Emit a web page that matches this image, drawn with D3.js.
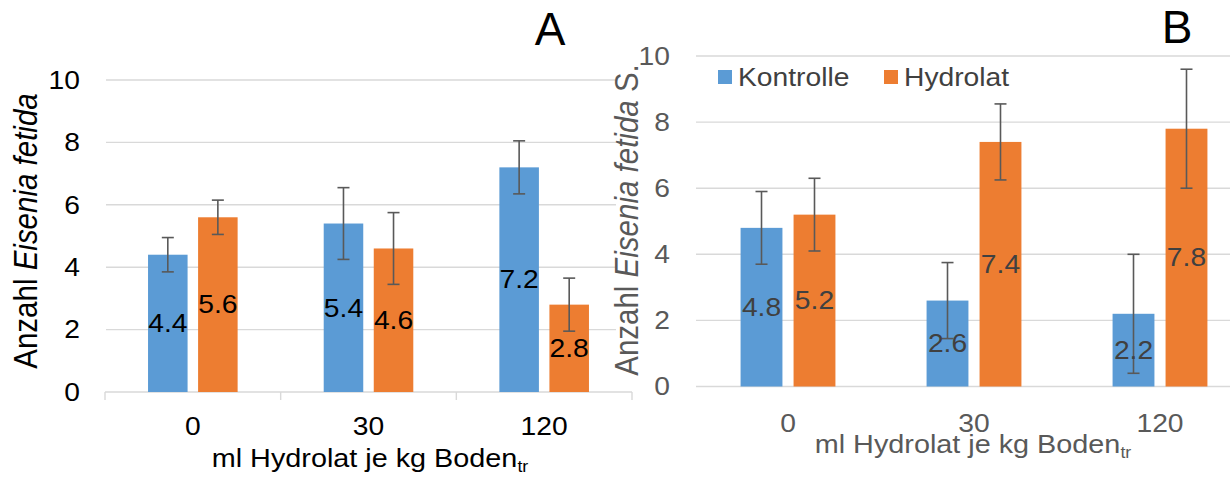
<!DOCTYPE html>
<html>
<head>
<meta charset="utf-8">
<script src="https://cdn.jsdelivr.net/npm/d3@7"></script>
<style>
  body { margin: 0; background: #fff; }
  svg { display: block; font-family: "Liberation Sans", Arial, sans-serif; }
</style>
</head>
<body>
<div id="chart"></div>
<script>
// data
const categories = ["0", "30", "120"];
const seriesNames = ["Kontrolle", "Hydrolat"];
const yTicks = [0, 2, 4, 6, 8, 10];

const aKontrolle = [4.4, 5.4, 7.2];
const aHydrolat = [5.6, 4.6, 2.8];
const aKontrolleErr = [0.55, 1.15, 0.85];
const aHydrolatErr = [0.55, 1.15, 0.85];

const bKontrolle = [4.8, 2.6, 2.2];
const bHydrolat = [5.2, 7.4, 7.8];
const bKontrolleErr = [1.1, 1.15, 1.8];
const bHydrolatErr = [1.1, 1.15, 1.8];

const colors = ["#5B9BD5", "#ED7D31"];
const sx = 1.13; // the chart text looks a bit wider than normal

const svg = d3.select("#chart")
    .append("svg")
    .attr("width", 1230)
    .attr("height", 482);

function stretchText(g, x, y, txt, opts) {
    const t = g.append("text")
        .attr("transform", `translate(${x},${y}) scale(${sx},1)` + (opts.rotate ? " rotate(-90)" : ""))
        .attr("text-anchor", opts.anchor || "middle")
        .attr("font-size", opts.size + "px")
        .attr("fill", opts.color);
    if (opts.dy) t.attr("dy", opts.dy);
    if (txt !== null) t.text(txt);
    return t;
}

function drawPanel(p) {
    const g = svg.append("g");

    const x = d3.scaleBand()
        .domain(categories)
        .range([p.left, p.right]);

    const xs = d3.scaleBand()
        .domain(seriesNames)
        .range([0, x.bandwidth()])
        .paddingInner(0.21)
        .paddingOuter(0.86);

    const y = d3.scaleLinear()
        .domain([0, 10])
        .range([p.bottom, p.top]);

    // gridlines
    g.selectAll(".grid")
        .data(yTicks.filter(d => p.zeroGrid || d > 0))
        .enter()
        .append("line")
        .attr("x1", p.left + 1)
        .attr("x2", p.gridEnd)
        .attr("y1", d => y(d))
        .attr("y2", d => y(d))
        .attr("stroke", "#d9d9d9")
        .attr("stroke-width", 1.4);

    // category axis
    if (p.axisLine) {
        g.append("line")
            .attr("x1", p.left)
            .attr("x2", p.right)
            .attr("y1", y(0))
            .attr("y2", y(0))
            .attr("stroke", "#d9d9d9")
            .attr("stroke-width", 1.4);
        const edges = categories.map(c => x(c)).concat([p.right]);
        g.selectAll(".tick")
            .data(edges)
            .enter()
            .append("line")
            .attr("x1", d => d)
            .attr("x2", d => d)
            .attr("y1", y(0))
            .attr("y2", y(0) + 8)
            .attr("stroke", "#d9d9d9")
            .attr("stroke-width", 1.4);
    }

    // y tick labels
    yTicks.forEach(d => {
        stretchText(g, p.yLabelX, y(d), String(d), { anchor: "end", size: p.tickSize, color: p.textColor, dy: "0.35em" });
    });

    // bars
    const rows = [];
    categories.forEach((c, i) => {
        rows.push({ cat: c, s: seriesNames[0], v: p.kontrolle[i], e: p.kontrolleErr[i], ci: 0 });
        rows.push({ cat: c, s: seriesNames[1], v: p.hydrolat[i], e: p.hydrolatErr[i], ci: 1 });
    });

    g.selectAll(".bar")
        .data(rows)
        .enter()
        .append("rect")
        .attr("x", d => x(d.cat) + xs(d.s))
        .attr("width", xs.bandwidth())
        .attr("y", d => y(d.v))
        .attr("height", d => y(0) - y(d.v))
        .attr("fill", d => colors[d.ci]);

    // error bars
    const eb = g.selectAll(".err")
        .data(rows)
        .enter()
        .append("g")
        .attr("stroke", "#595959")
        .attr("stroke-width", 1.6);
    eb.append("line")
        .attr("x1", d => x(d.cat) + xs(d.s) + xs.bandwidth() / 2)
        .attr("x2", d => x(d.cat) + xs(d.s) + xs.bandwidth() / 2)
        .attr("y1", d => y(d.v + d.e))
        .attr("y2", d => y(d.v - d.e));
    [1, -1].forEach(sign => {
        eb.append("line")
            .attr("x1", d => x(d.cat) + xs(d.s) + xs.bandwidth() / 2 - 6)
            .attr("x2", d => x(d.cat) + xs(d.s) + xs.bandwidth() / 2 + 6)
            .attr("y1", d => y(d.v + sign * d.e))
            .attr("y2", d => y(d.v + sign * d.e));
    });

    // value labels, centred in the bar
    rows.forEach(d => {
        stretchText(g, x(d.cat) + xs(d.s) + xs.bandwidth() / 2, y(d.v / 2), d.v.toFixed(1),
            { size: p.labelSize, color: p.labelColor, dy: "0.35em" });
    });

    // x tick labels
    categories.forEach(c => {
        stretchText(g, x(c) + x.bandwidth() / 2, p.xLabelY, c, { size: p.tickSize, color: p.textColor });
    });

    // x title
    const xt = stretchText(g, p.xTitleX, p.xTitleY, null, { size: p.titleSize, color: p.textColor });
    xt.append("tspan").text("ml Hydrolat je kg Boden");
    xt.append("tspan").attr("font-size", "0.62em").attr("dy", "0.3em").text("tr");

    // y title
    const yt = stretchText(g, p.yTitleX, p.yTitleY, null, { size: p.yTitleSize, color: p.textColor, rotate: true });
    yt.append("tspan").text("Anzahl ");
    yt.append("tspan").attr("font-style", "italic").text("Eisenia fetida");
    if (p.yTitleTail) yt.append("tspan").text(p.yTitleTail);

    // panel letter
    g.append("text")
        .attr("x", p.letterX)
        .attr("y", p.letterY)
        .attr("text-anchor", "middle")
        .attr("font-size", "46px")
        .attr("fill", "#000")
        .text(p.letter);

    return { g, x, y };
}

drawPanel({
    left: 105, right: 632, top: 80, bottom: 392, gridEnd: 616,
    zeroGrid: false, axisLine: true,
    kontrolle: aKontrolle, hydrolat: aHydrolat,
    kontrolleErr: aKontrolleErr, hydrolatErr: aHydrolatErr,
    textColor: "#000", labelColor: "#000",
    tickSize: 25, labelSize: 25, titleSize: 25.5, yTitleSize: 29.5,
    yLabelX: 80, xLabelY: 435,
    xTitleX: 370, xTitleY: 467,
    yTitleX: 37, yTitleY: 231,
    letter: "A", letterX: 550, letterY: 45
});

const panelB = drawPanel({
    left: 695, right: 1253, top: 56, bottom: 386.5, gridEnd: 1230,
    zeroGrid: true, axisLine: false,
    kontrolle: bKontrolle, hydrolat: bHydrolat,
    kontrolleErr: bKontrolleErr, hydrolatErr: bHydrolatErr,
    textColor: "#595959", labelColor: "#404040",
    tickSize: 25, labelSize: 25, titleSize: 25.5, yTitleSize: 29.5,
    yLabelX: 670, xLabelY: 432,
    xTitleX: 973, xTitleY: 453,
    yTitleX: 638, yTitleY: 220, yTitleTail: " S.",
    letter: "B", letterX: 1177, letterY: 43
});

// legend for panel B
const legend = panelB.g.append("g");
const legendX = [718, 884];
seriesNames.forEach((s, i) => {
    legend.append("rect")
        .attr("x", legendX[i])
        .attr("y", 70)
        .attr("width", 14)
        .attr("height", 14)
        .attr("fill", colors[i]);
    stretchText(legend, legendX[i] + 20, 77, s, { anchor: "start", size: 25, color: "#404040", dy: "0.35em" });
});
</script>
</body>
</html>
